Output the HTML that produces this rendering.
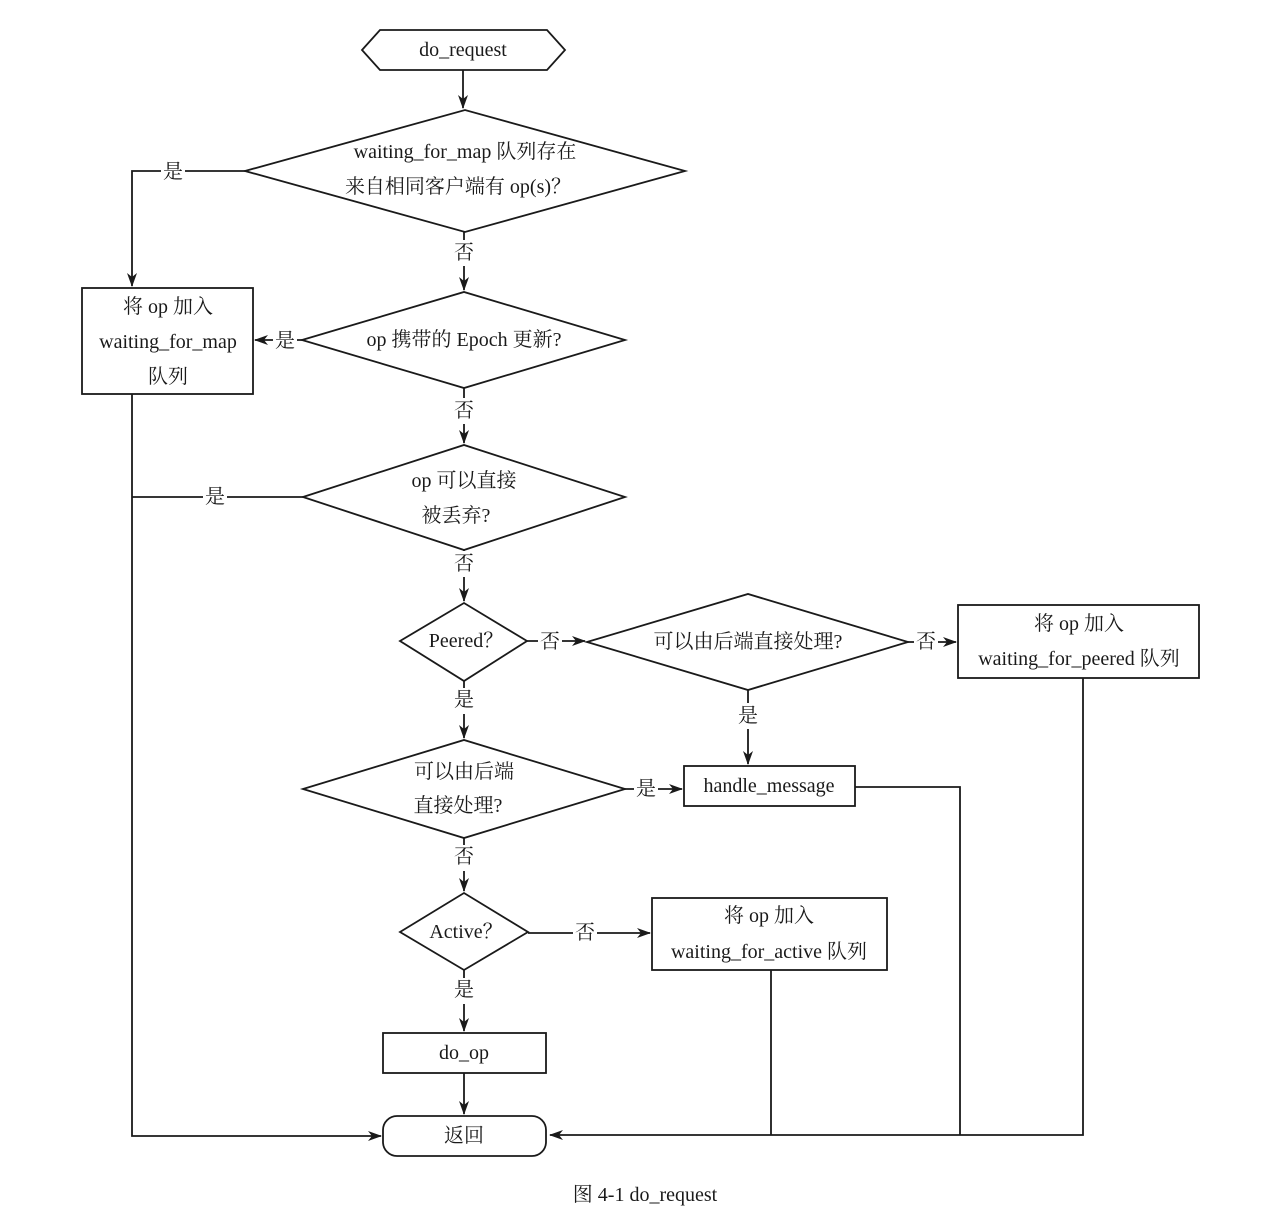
<!DOCTYPE html>
<html><head><meta charset="utf-8"><style>
html,body{margin:0;padding:0;background:#fff;}
svg{display:block;}
text{font-family:"Liberation Serif","Noto Serif CJK SC",serif;font-size:20px;fill:#1a1a1a;}
</style></head><body>
<svg width="1276" height="1227" viewBox="0 0 1276 1227" xmlns="http://www.w3.org/2000/svg">
<defs>
<marker id="a" markerWidth="14" markerHeight="10" refX="13" refY="5" orient="auto" markerUnits="userSpaceOnUse">
<path d="M0,0 L14,5 L0,10 L4,5 Z" fill="#1a1a1a"/>
</marker>
</defs>
<g fill="none" stroke="#1a1a1a" stroke-width="1.8">
<polygon points="362,50 380,30 547,30 565,50 547,70 380,70" fill="#fff"/>
<polygon points="245,171 465,110 685,171 465,232"/>
<rect x="82" y="288" width="171" height="106"/>
<polygon points="302,340 464,292 625,340 464,388"/>
<polygon points="303,497 464,445 625,497 464,550"/>
<polygon points="400,641 464,603 527,641 464,681"/>
<polygon points="587,642 748,594 908,642 748,690"/>
<rect x="958" y="605" width="241" height="73"/>
<rect x="684" y="766" width="171" height="40"/>
<polygon points="303,789 464,740 625,789 464,838"/>
<polygon points="400,932 464,893 528,932 464,970"/>
<rect x="652" y="898" width="235" height="72"/>
<rect x="383" y="1033" width="163" height="40"/>
<rect x="383" y="1116" width="163" height="40" rx="14"/>
<!-- connectors -->
<line x1="463" y1="70" x2="463" y2="108" marker-end="url(#a)"/>
<polyline points="245,171 132,171 132,286" marker-end="url(#a)"/>
<line x1="464" y1="232" x2="464" y2="290" marker-end="url(#a)"/>
<line x1="302" y1="340" x2="255" y2="340" marker-end="url(#a)"/>
<line x1="464" y1="388" x2="464" y2="443" marker-end="url(#a)"/>
<line x1="303" y1="497" x2="132" y2="497"/>
<polyline points="132,394 132,1136 381,1136" marker-end="url(#a)"/>
<line x1="464" y1="550" x2="464" y2="601" marker-end="url(#a)"/>
<line x1="527" y1="641" x2="585" y2="641" marker-end="url(#a)"/>
<line x1="908" y1="642" x2="956" y2="642" marker-end="url(#a)"/>
<polyline points="1083,678 1083,1135 550,1135" marker-end="url(#a)"/>
<line x1="748" y1="690" x2="748" y2="764" marker-end="url(#a)"/>
<polyline points="855,787 960,787 960,1135"/>
<line x1="464" y1="681" x2="464" y2="738" marker-end="url(#a)"/>
<line x1="625" y1="789" x2="682" y2="789" marker-end="url(#a)"/>
<line x1="464" y1="838" x2="464" y2="891" marker-end="url(#a)"/>
<line x1="528" y1="933" x2="650" y2="933" marker-end="url(#a)"/>
<line x1="771" y1="970" x2="771" y2="1135"/>
<line x1="464" y1="970" x2="464" y2="1031" marker-end="url(#a)"/>
<line x1="464" y1="1073" x2="464" y2="1114" marker-end="url(#a)"/>
</g>
<!-- label backgrounds -->
<g fill="#fff">
<rect x="161" y="160" width="24" height="24"/>
<rect x="452" y="240" width="24" height="26"/>
<rect x="273" y="329" width="24" height="24"/>
<rect x="452" y="398" width="24" height="26"/>
<rect x="203" y="485" width="24" height="24"/>
<rect x="452" y="551" width="24" height="26"/>
<rect x="538" y="630" width="24" height="24"/>
<rect x="914" y="630" width="24" height="24"/>
<rect x="736" y="703" width="24" height="26"/>
<rect x="452" y="688" width="24" height="26"/>
<rect x="634" y="777" width="24" height="24"/>
<rect x="452" y="845" width="24" height="26"/>
<rect x="573" y="921" width="24" height="24"/>
<rect x="452" y="978" width="24" height="26"/>
</g>
<g text-anchor="middle" dominant-baseline="central">
<text x="463" y="50">do_request</text>
<text x="465" y="152">waiting_for_map 队列存在</text>
<text x="458" y="187">来自相同客户端有 op(s)？</text>
<text x="173" y="172">是</text>
<text x="464" y="253">否</text>
<text x="168" y="307">将 op 加入</text>
<text x="168" y="342">waiting_for_map</text>
<text x="168" y="377">队列</text>
<text x="285" y="341">是</text>
<text x="464" y="340">op 携带的 Epoch 更新?</text>
<text x="464" y="411">否</text>
<text x="464" y="481">op 可以直接</text>
<text x="456" y="516">被丢弃?</text>
<text x="215" y="497">是</text>
<text x="464" y="564">否</text>
<text x="466" y="641">Peered？</text>
<text x="550" y="642">否</text>
<text x="748" y="642">可以由后端直接处理?</text>
<text x="926" y="642">否</text>
<text x="1079" y="624">将 op 加入</text>
<text x="1079" y="659">waiting_for_peered 队列</text>
<text x="748" y="716">是</text>
<text x="464" y="700">是</text>
<text x="769" y="786">handle_message</text>
<text x="464" y="772">可以由后端</text>
<text x="458" y="806">直接处理?</text>
<text x="646" y="789">是</text>
<text x="464" y="857">否</text>
<text x="466" y="932">Active？</text>
<text x="585" y="933">否</text>
<text x="769" y="916">将 op 加入</text>
<text x="769" y="952">waiting_for_active 队列</text>
<text x="464" y="990">是</text>
<text x="464" y="1053">do_op</text>
<text x="464" y="1136">返回</text>
<text x="645" y="1195">图 4-1    do_request</text>
</g>
</svg>
</body></html>
